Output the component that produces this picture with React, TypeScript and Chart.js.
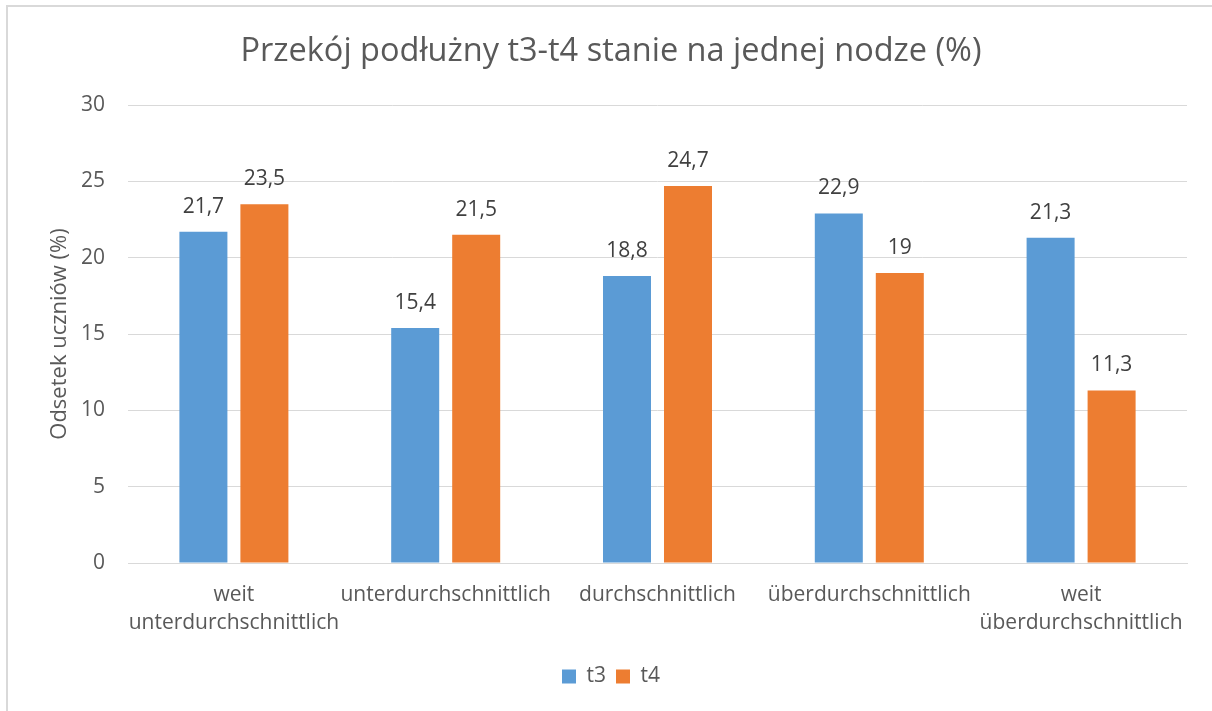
import React, { useEffect, useRef } from "react";
import { Chart, registerables } from "chart.js";

Chart.register(...registerables);

const TITLE = "Przekój podłużny t3-t4 stanie na jednej nodze (%)";
const Y_TITLE = "Odsetek uczniów (%)";
const CATEGORIES: string[][] = [
  ["weit", "unterdurchschnittlich"],
  ["unterdurchschnittlich"],
  ["durchschnittlich"],
  ["überdurchschnittlich"],
  ["weit", "überdurchschnittlich"],
];
const T3 = [21.7, 15.4, 18.8, 22.9, 21.3];
const T4 = [23.5, 21.5, 24.7, 19, 11.3];
const SERIES_NAMES = ["t3", "t4"];
const Y_MIN = 0;
const Y_MAX = 30;
const Y_STEP = 5;

const FONT = "'Open Sans', sans-serif";
const TEXT = "#595959";

const dataLabels = {
  id: "dataLabels",
  afterDatasetsDraw(chart: any) {
    const ctx = chart.ctx;
    ctx.save();
    ctx.font = `21px ${FONT}`;
    ctx.fillStyle = "#404040";
    ctx.textAlign = "center";
    ctx.textBaseline = "middle";
    chart.data.datasets.forEach((ds: any, i: number) => {
      const meta = chart.getDatasetMeta(i);
      meta.data.forEach((bar: any, j: number) => {
        const v = ds.data[j];
        ctx.fillText(String(v).replace(".", ","), bar.x, bar.y - 25);
      });
    });
    ctx.restore();
  },
};

const frame = {
  id: "frame",
  beforeDraw(chart: any) {
    const ctx = chart.ctx;
    ctx.save();
    ctx.fillStyle = "#ffffff";
    ctx.fillRect(0, 0, chart.width, chart.height);
    ctx.strokeStyle = "#D9D9D9";
    ctx.lineWidth = 2;
    ctx.strokeRect(7, 6, chart.width + 20, chart.height + 20);
    ctx.restore();
  },
};

export default function App() {
  const ref = useRef<HTMLCanvasElement | null>(null);
  useEffect(() => {
    document.body.style.margin = "0";
    const chart = new Chart(ref.current!, {
      type: "bar",
      data: {
        labels: CATEGORIES,
        datasets: [
          { label: SERIES_NAMES[0], data: T3, backgroundColor: "#5B9BD5" },
          { label: SERIES_NAMES[1], data: T4, backgroundColor: "#ED7D31" },
        ],
      },
      options: {
        animation: false,
        responsive: false,
        maintainAspectRatio: false,
        layout: { padding: { left: 35, right: 25, top: 0, bottom: 14 } },
        datasets: {
          bar: { categoryPercentage: 0.576, barPercentage: 0.787 },
        } as any,
        scales: {
          x: {
            grid: { display: false, drawTicks: false },
            border: { display: true, color: "#D9D9D9", width: 1 },
            ticks: {
              color: TEXT,
              font: { family: FONT, size: 21, lineHeight: 1.333 },
              maxRotation: 0,
              autoSkip: false,
              padding: 18,
            },
            afterFit: (s: any) => {
              s.height = 93;
            },
          },
          y: {
            min: Y_MIN,
            max: Y_MAX,
            ticks: {
              stepSize: Y_STEP,
              color: TEXT,
              font: { family: FONT, size: 21 },
              padding: 23,
            },
            grid: { color: "#D9D9D9", drawTicks: false },
            border: { display: false },
            title: {
              display: true,
              text: Y_TITLE,
              color: TEXT,
              font: { family: FONT, size: 22 },
              padding: { top: 12, bottom: 0 },
            },
            afterFit: (s: any) => {
              s.width = 93;
            },
          },
        },
        plugins: {
          title: {
            display: true,
            text: TITLE,
            color: TEXT,
            font: { family: FONT, size: 32.5, weight: "normal" },
            padding: { top: 32, bottom: 34 },
          },
          legend: {
            position: "bottom",
            labels: {
              color: TEXT,
              font: { family: FONT, size: 21 },
              boxWidth: 14,
              boxHeight: 14,
              padding: 10,
            },
          },
          tooltip: { enabled: false },
        },
      },
      plugins: [frame, dataLabels],
    });
    return () => chart.destroy();
  }, []);
  return (
    <div style={{ width: 1212, height: 711 }}>
      <canvas ref={ref} width={1212} height={711} style={{ display: "block" }} />
    </div>
  );
}
